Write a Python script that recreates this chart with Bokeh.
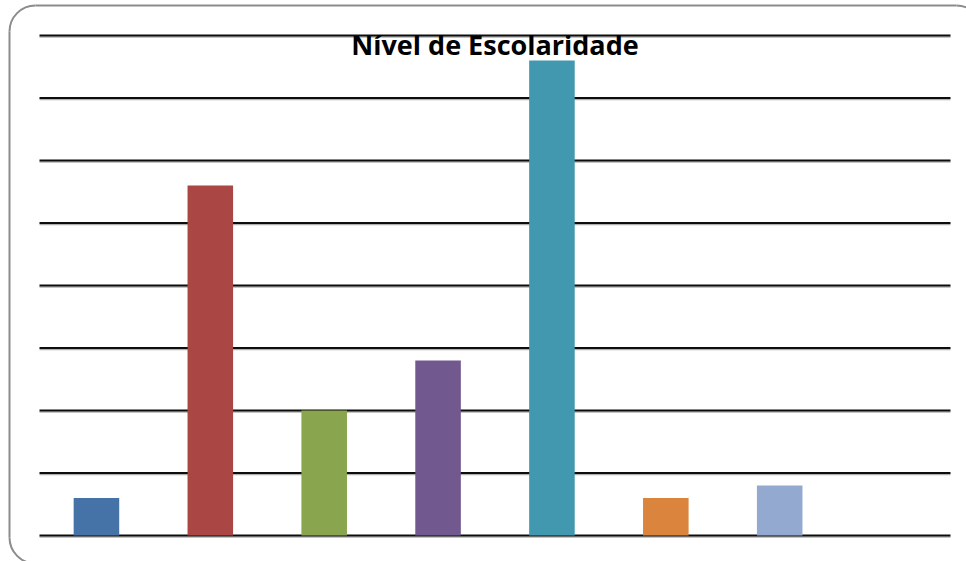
from bokeh.plotting import figure
from bokeh.models import Range1d, Label, ColumnDataSource
from bokeh.embed import file_html
from bokeh.resources import INLINE

categories = ["1", "2", "3", "4", "5", "6", "7", "8"]
values = [3, 28, 10, 14, 38, 3, 4, 0]
colors = ["#4572A7", "#AA4643", "#89A54E", "#71588F", "#4198AF", "#DB843D", "#93A9CF", "#A47D7C"]
y_ticks = [0, 5, 10, 15, 20, 25, 30, 35, 40]
title_text = "Nível de Escolaridade"

W, H = 966, 561
# plot-area layout in pixels
PL, PR, PT, PB = 39, 950, 35, 535
n = len(categories)
px_per_x = (PR - PL) / n
y_max = y_ticks[-1]
px_per_y = (PB - PT) / y_max

x_start = -PL / px_per_x
x_end = n + (W - PR) / px_per_x
y_start = -(H - PB) / px_per_y
y_end = y_max + PT / px_per_y


def dx(px):
    return (px - PL) / px_per_x


def dy(py):
    return (PB - py) / px_per_y


xs = [i + 0.5 for i in range(n)]
src = ColumnDataSource(dict(x=xs, val=values, color=colors))

p = figure(width=W, height=H, x_range=Range1d(x_start, x_end), y_range=Range1d(y_start, y_end),
           output_backend="svg", toolbar_location=None,
           min_border_left=0, min_border_right=0, min_border_top=0, min_border_bottom=0)

# chart-area frame: rounded border (decoration, pixel geometry)
BL, BT, BR, BB, R = 9, 5, 982, 563, 26
bc, bw = "#8c8c8c", 2
p.segment(x0=[dx(BL + R), dx(BL)], y0=[dy(BT), dy(BT + R)],
          x1=[dx(BR - R), dx(BL)], y1=[dy(BT), dy(BB - R)],
          line_color=bc, line_width=bw)
p.segment(x0=[dx(BL + R)], y0=[dy(BB)], x1=[dx(BR - R)], y1=[dy(BB)],
          line_color=bc, line_width=bw)
p.arc(x=[dx(BL + R), dx(BL + R), dx(BR - R)], y=[dy(BT + R), dy(BB - R), dy(BT + R)],
      radius=R, radius_units="screen",
      start_angle=[90, 180, 0], end_angle=[180, 270, 90],
      start_angle_units="deg", end_angle_units="deg",
      line_color=bc, line_width=bw)

# gridlines (with a faint shadow below, as in the original)
shadow_y = [t - 1.5 / px_per_y for t in y_ticks]
p.segment(x0=[0] * len(y_ticks), x1=[n] * len(y_ticks), y0=shadow_y, y1=shadow_y,
          line_color="#b0b0b0", line_width=1.5)
p.segment(x0=[0] * len(y_ticks), x1=[n] * len(y_ticks), y0=y_ticks, y1=y_ticks,
          line_color="#0d0d0d", line_width=2)

p.vbar(x="x", top="val", width=0.4, fill_color="color", line_color=None, source=src)

p.axis.visible = False
p.grid.visible = False
p.outline_line_color = None
p.background_fill_color = "white"
p.border_fill_color = "white"

title = Label(x=n / 2, y=y_max - 9 / px_per_y, text=title_text, text_align="center",
              text_baseline="alphabetic",
              text_font="Open Sans", text_font_style="bold", text_font_size="27px",
              text_color="black")
p.add_layout(title)

open("out.html", "w").write(file_html(p, INLINE))
